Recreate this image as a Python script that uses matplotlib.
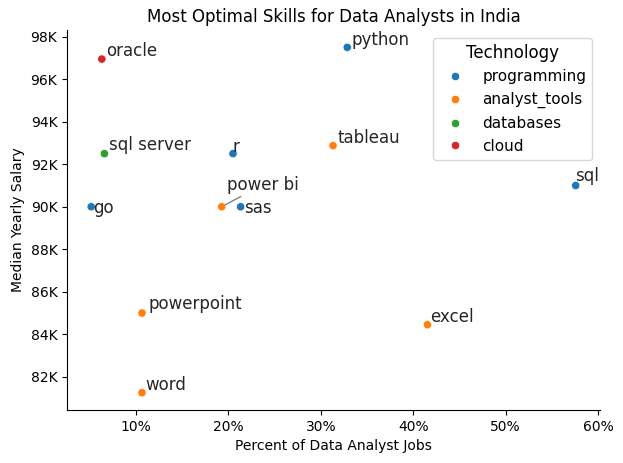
import matplotlib
matplotlib.use('Agg')
import matplotlib.pyplot as plt
from matplotlib.ticker import FuncFormatter, PercentFormatter
import seaborn as sns
import pandas as pd

# Skills data
skills = ['python', 'oracle', 'sql server', 'r', 'tableau', 'sql', 'power bi',
          'sas', 'go', 'powerpoint', 'excel', 'word']
technology = ['programming', 'cloud', 'databases', 'programming', 'analyst_tools',
              'programming', 'analyst_tools', 'programming', 'programming',
              'analyst_tools', 'analyst_tools', 'analyst_tools']
skill_percent = [32.87, 6.3, 6.58, 20.5, 31.33, 57.6, 19.28, 21.33, 5.15,
                 10.65, 41.55, 10.65]
median_salary = [97500, 96950, 92500, 92500, 92875, 91000, 90000, 90000, 90000,
                 85000, 84450, 81250]
tech_order = ['programming', 'analyst_tools', 'databases', 'cloud']

# label offsets in pixels (dx, dy) relative to each point
label_offsets = {
    'python': (4, 2), 'oracle': (4, 3), 'sql server': (5, 4), 'r': (0, 2),
    'tableau': (4, 3), 'sql': (-1, 5), 'power bi': (5, 17), 'sas': (3, -6),
    'go': (2, -6), 'powerpoint': (6, 4), 'excel': (3, 3), 'word': (3, 3),
}

df = pd.DataFrame({'skills': skills, 'technology': technology,
                   'skill_percent': skill_percent, 'median_salary': median_salary})

fig, ax = plt.subplots(figsize=(6.23, 4.63), dpi=100)
sns.scatterplot(data=df, x='skill_percent', y='median_salary', hue='technology',
                hue_order=tech_order, ax=ax)
sns.despine()

for _, row in df.iterrows():
    dx, dy = label_offsets[row['skills']]
    if row['skills'] == 'power bi':
        ax.annotate(row['skills'], (row['skill_percent'], row['median_salary']),
                    xytext=(dx, dy), textcoords='offset pixels', fontsize=12,
                    ha='left', va='baseline', color='#262626',
                    arrowprops=dict(arrowstyle='-', color='gray', lw=1,
                                    shrinkA=0, shrinkB=3))
    else:
        ax.annotate(row['skills'], (row['skill_percent'], row['median_salary']),
                    xytext=(dx, dy), textcoords='offset pixels', fontsize=12,
                    ha='left', va='baseline', color='#262626')

ax.yaxis.set_major_formatter(FuncFormatter(lambda y, pos: f'{int(y/1000)}K'))
ax.xaxis.set_major_formatter(PercentFormatter(decimals=0))

ax.set_title('Most Optimal Skills for Data Analysts in India')
ax.set_xlabel('Percent of Data Analyst Jobs')
ax.set_ylabel('Median Yearly Salary')
ax.legend(title='Technology', title_fontsize=12, fontsize=11, loc='upper right')

fig.subplots_adjust(left=0.1075, right=0.963, top=0.935, bottom=0.1145)
plt.savefig('out.png', dpi=100)
